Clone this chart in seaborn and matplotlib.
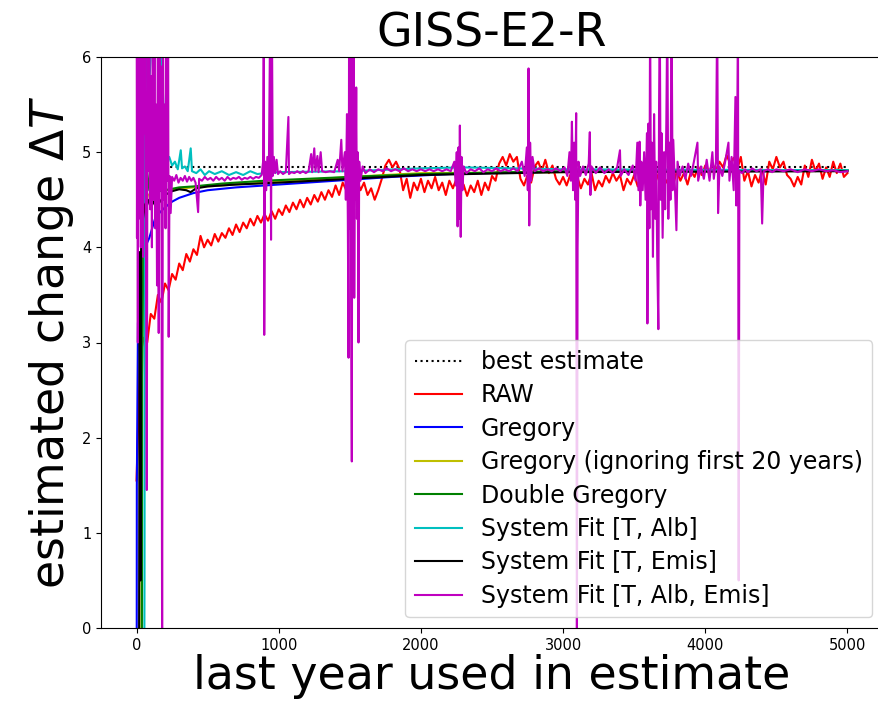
import numpy as np
import pandas as pd
import matplotlib
matplotlib.use("Agg")
import matplotlib.pyplot as plt
import seaborn as sns

# ---------------- data ----------------
title = "GISS-E2-R"
xlabel = "last year used in estimate"
ylabel = "estimated change $\\Delta T$"
x_ticks = [0, 1000, 2000, 3000, 4000, 5000]
y_ticks = [0, 1, 2, 3, 4, 5, 6]

labels = ["best estimate", "RAW", "Gregory", "Gregory (ignoring first 20 years)",
          "Double Gregory", "System Fit [T, Alb]", "System Fit [T, Emis]",
          "System Fit [T, Alb, Emis]"]

best_years = [0, 5000]
best_vals = [4.84, 4.84]

# RAW: one value every 25 years, 0 .. 5000
raw_step = 25
raw_vals = [
    1.55, 2.85, 3.05, 3.00, 3.30, 3.25, 3.50, 3.42, 3.62, 3.55,
    3.72, 3.66, 3.83, 3.76, 3.93, 3.85, 3.98, 3.92, 4.12, 4.00,
    4.08, 4.02, 4.14, 4.06, 4.15, 4.10, 4.20, 4.13, 4.24, 4.16,
    4.26, 4.20, 4.30, 4.23, 4.33, 4.26, 4.35, 4.28, 4.38, 4.30,
    4.40, 4.34, 4.44, 4.37, 4.47, 4.40, 4.50, 4.42, 4.52, 4.45,
    4.55, 4.48, 4.58, 4.50, 4.60, 4.53, 4.65, 4.55, 4.68, 4.60,
    4.70, 4.62, 4.72, 4.60, 4.68, 4.55, 4.62, 4.50, 4.60, 4.72,
    4.86, 4.92, 4.84, 4.90, 4.82, 4.60, 4.72, 4.52, 4.68, 4.60,
    4.72, 4.58, 4.70, 4.62, 4.74, 4.60, 4.68, 4.55, 4.70, 4.62,
    4.72, 4.60, 4.66, 4.54, 4.65, 4.58, 4.70, 4.55, 4.68, 4.60,
    4.75, 4.70, 4.88, 4.95, 4.86, 4.98, 4.90, 4.95, 4.72, 4.65,
    4.76, 4.68, 4.85, 4.90, 4.80, 4.92, 4.78, 4.86, 4.72, 4.66,
    4.74, 4.65, 4.76, 4.68, 4.74, 4.62, 4.72, 4.66, 4.78, 4.60,
    4.70, 4.64, 4.75, 4.68, 4.78, 4.70, 4.76, 4.60, 4.72, 4.66,
    4.76, 4.64, 4.78, 4.70, 4.82, 4.72, 4.80, 4.70, 4.78, 4.68,
    4.76, 4.66, 4.80, 4.70, 4.78, 4.66, 4.80, 4.74, 4.85, 4.76,
    4.86, 4.78, 4.88, 4.80, 4.90, 4.84, 4.97, 4.88, 4.94, 4.82,
    4.95, 4.70, 4.80, 4.64, 4.76, 4.68, 4.82, 4.66, 4.90, 4.82,
    4.95, 4.84, 4.90, 4.76, 4.72, 4.64, 4.74, 4.66, 4.86, 4.74,
    4.92, 4.80, 4.88, 4.72, 4.84, 4.74, 4.90, 4.78, 4.88, 4.74,
    4.78,
]

greg_years = [0, 2, 10, 30, 60, 90, 130, 160, 200, 250, 300, 400, 500, 700,
              900, 1200, 1500, 1800, 2200, 2700, 3500, 5000]
greg_vals = [-3.0, 1.5, 3.2, 3.8, 4.0, 4.1, 4.3, 4.36, 4.42, 4.48, 4.52, 4.57,
             4.60, 4.63, 4.65, 4.68, 4.71, 4.74, 4.77, 4.79, 4.80, 4.81]

greg20_years = [30, 38, 50, 80, 120, 200, 400, 800, 1500, 2000, 3000, 5000]
greg20_vals = [-3.0, 2.65, 4.30, 4.55, 4.58, 4.60, 4.63, 4.67, 4.74, 4.78, 4.79, 4.81]

dgreg_years = [35, 40, 50, 70, 90, 120, 200, 300, 400, 600, 900, 1200, 1500,
               2000, 3000, 5000]
dgreg_vals = [-3.0, 2.65, 4.40, 4.85, 4.60, 4.58, 4.60, 4.63, 4.64, 4.67, 4.70,
              4.72, 4.74, 4.77, 4.80, 4.81]

sf_alb_years = [50, 56, 60, 80, 120, 170, 200, 215, 230, 250, 270, 290, 311,
                320, 340, 360, 381, 390, 420, 450, 480, 510, 550, 600, 650,
                700, 750, 800, 850, 900, 1000, 1500, 2000, 2300, 3000, 5000]
sf_alb_vals = [-3.0, 0.5, 6.5, 5.5, 6.5, 6.3, 5.0, 4.90, 4.95, 4.86, 4.90,
               4.82, 5.02, 4.83, 4.85, 4.80, 5.04, 4.80, 4.78, 4.82, 4.76,
               4.80, 4.77, 4.80, 4.76, 4.79, 4.76, 4.80, 4.77, 4.78, 4.79,
               4.80, 4.83, 4.84, 4.82, 4.81]

sf_emis_years = [15, 22, 28, 35, 45, 60, 80, 100, 130, 160, 200, 250, 300,
                 350, 380, 420, 500, 700, 1000, 1500, 2000, 3000, 5000]
sf_emis_vals = [-3.0, 3.95, 0.5, 6.5, 4.30, 4.45, 4.50, 4.42, 4.50, 4.47,
                4.55, 4.59, 4.61, 4.60, 4.58, 4.62, 4.64, 4.66, 4.68, 4.72,
                4.76, 4.79, 4.80]

sf_all_points = [
    (1, 6.5), (3, 4.1), (6, 6.5), (9, 3.0), (12, 6.5), (15, 4.3), (18, 6.5),
    (22, 5.0), (26, 6.5), (30, 4.0), (34, 6.5), (38, 4.6), (42, 6.5), (46, 3.9),
    (50, 6.5), (55, 5.2), (60, 6.5), (66, 4.2), (72, 1.45), (78, 6.5), (84, 4.8),
    (90, 6.5), (96, 4.4), (102, 5.8), (108, 4.0), (114, 6.5), (120, 4.5),
    (126, 6.5), (132, 4.2), (138, 5.5), (144, 3.6), (150, 6.5), (156, 3.1),
    (162, 6.5), (168, 4.6), (174, 5.9), (180, -0.5), (186, 6.5), (192, 4.5),
    (198, 5.5), (204, 4.2), (210, 6.5), (216, 4.7), (222, 6.5), (226, 3.06),
    (232, 4.75),
    (240, 4.36), (250, 4.74), (265, 4.70), (280, 4.76), (295, 4.68), (310, 4.73),
    (325, 4.70), (340, 4.75), (355, 4.69), (370, 4.74), (385, 4.70), (400, 4.73),
    (415, 4.68), (433, 4.37), (440, 4.72), (460, 4.70), (480, 4.74), (500, 4.71),
    (520, 4.73), (540, 4.70), (560, 4.74), (580, 4.71), (600, 4.73), (620, 4.70),
    (640, 4.74), (660, 4.71), (680, 4.73), (700, 4.72), (720, 4.74), (740, 4.71),
    (760, 4.73), (780, 4.72), (800, 4.74), (820, 4.72), (840, 4.74), (860, 4.73),
    (880, 4.76),
    (890, 4.9), (895, 6.5), (898, 3.08), (904, 4.9), (912, 4.6), (920, 4.95),
    (930, 4.7), (940, 6.5), (946, 4.08), (952, 6.5), (958, 4.75), (966, 4.95),
    (975, 4.78), (985, 4.92), (995, 4.77), (1010, 4.80), (1030, 4.77),
    (1050, 4.79), (1068, 5.37), (1072, 4.77), (1090, 4.79), (1110, 4.78),
    (1130, 4.80), (1150, 4.78), (1170, 4.80), (1190, 4.78), (1210, 4.80),
    (1228, 4.98), (1235, 4.79), (1250, 5.04), (1258, 4.80), (1272, 4.96),
    (1280, 4.79), (1295, 5.0), (1305, 4.80), (1330, 4.79), (1360, 4.80),
    (1390, 4.79), (1415, 4.92), (1425, 4.80), (1440, 5.13), (1448, 4.80),
    (1465, 5.0), (1472, 4.5), (1480, 5.4), (1486, 4.3), (1491, 2.84),
    (1495, 6.5), (1500, 4.2), (1504, 6.5), (1509, 3.5), (1514, 1.75),
    (1518, 6.5), (1522, 4.0), (1527, 6.5), (1531, 3.47), (1536, 5.2),
    (1540, 4.5), (1545, 5.68), (1550, 4.3), (1555, 5.0), (1561, 3.0),
    (1566, 4.9), (1575, 4.7), (1590, 4.85), (1610, 4.78), (1640, 4.82),
    (1670, 4.79), (1700, 4.82), (1730, 4.80), (1760, 4.83), (1790, 4.80),
    (1820, 4.82), (1850, 4.80), (1880, 4.83), (1910, 4.80), (1940, 4.82),
    (1970, 4.80), (2000, 4.82), (2030, 4.80), (2060, 4.82), (2090, 4.80),
    (2120, 4.82), (2150, 4.80), (2180, 4.82), (2210, 4.80), (2235, 4.9),
    (2245, 4.65), (2252, 5.0), (2258, 4.22), (2264, 5.05), (2268, 4.3),
    (2274, 5.28), (2280, 4.11), (2286, 4.95), (2292, 4.6), (2300, 4.85),
    (2320, 4.78), (2350, 4.82), (2380, 4.80), (2410, 4.83), (2440, 4.79),
    (2470, 4.82), (2500, 4.80), (2530, 4.83), (2560, 4.80), (2590, 4.82),
    (2620, 4.80), (2650, 4.83), (2680, 4.80), (2710, 4.9), (2730, 4.75),
    (2745, 5.05), (2752, 4.6), (2757, 5.88), (2762, 4.23), (2768, 5.1),
    (2775, 4.7), (2785, 4.95), (2800, 4.80), (2830, 4.83), (2860, 4.80),
    (2890, 4.82), (2920, 4.80), (2950, 4.83), (2980, 4.80), (3010, 4.84),
    (3030, 4.75), (3045, 5.0), (3055, 4.7), (3062, 5.32), (3070, 4.6),
    (3078, 5.1), (3085, 4.5), (3092, 5.41), (3097, -0.5), (3102, 4.0),
    (3108, 4.9), (3120, 4.75), (3140, 4.85), (3160, 4.76), (3180, 4.88),
    (3188, 5.21), (3192, 4.55), (3200, 4.85), (3230, 4.78), (3260, 4.84),
    (3290, 4.78), (3320, 4.82), (3350, 4.78), (3380, 4.84), (3400, 5.02),
    (3405, 4.75), (3430, 4.82), (3460, 4.76), (3490, 4.86), (3510, 4.7),
    (3522, 5.1), (3530, 4.6), (3538, 5.11), (3543, 4.44), (3550, 4.9),
    (3560, 4.6), (3570, 5.0), (3580, 4.5), (3590, 5.2), (3593, 3.2),
    (3600, 5.3), (3607, 4.2), (3612, 6.5), (3618, 4.4), (3625, 5.1),
    (3632, 3.9), (3640, 5.4), (3648, 4.3), (3655, 4.9), (3662, 3.9),
    (3670, 3.14), (3675, 5.5), (3680, 6.5), (3686, 4.5), (3692, 5.2),
    (3700, 4.1), (3710, 5.0), (3718, 4.4), (3726, 5.3), (3733, 6.5),
    (3740, 4.3), (3748, 5.1), (3755, 4.5), (3763, 6.5), (3770, 4.6),
    (3775, 5.13), (3785, 4.7), (3797, 4.18), (3805, 4.9), (3820, 4.75),
    (3840, 4.85), (3860, 4.72), (3880, 4.88), (3900, 4.75), (3920, 4.9),
    (3945, 5.1), (3950, 4.7), (3970, 4.85), (3990, 4.72), (4010, 4.92),
    (4030, 4.7), (4050, 5.0), (4060, 4.72), (4075, 4.9), (4084, 6.5),
    (4090, 4.36), (4100, 4.85), (4120, 4.75), (4140, 4.9), (4163, 5.1),
    (4170, 4.7), (4185, 4.95), (4200, 4.6), (4212, 5.58), (4218, 4.44),
    (4225, 5.3), (4230, 6.5), (4235, 0.5), (4240, 4.8), (4260, 4.78),
    (4280, 4.82), (4300, 4.79), (4330, 4.83), (4360, 4.80), (4390, 4.82),
    (4400, 4.25), (4410, 4.80), (4440, 4.82), (4470, 4.79), (4500, 4.82),
    (4550, 4.80), (4600, 4.82), (4650, 4.79), (4700, 4.82), (4750, 4.80),
    (4800, 4.82), (4850, 4.80), (4900, 4.81), (4950, 4.79), (5000, 4.80),
]

colors = ["k", "r", "b", "y", "g", "c", "k", "m"]

# ---------------- figure ----------------
W, H = 879, 701
fig = plt.figure(figsize=(W / 100, H / 100), dpi=100)
ax = fig.add_axes([101 / W, (H - 628) / H, 782 / W, 571 / H])

raw_years = list(range(0, raw_step * len(raw_vals), raw_step))
sf_all_years = [p[0] for p in sf_all_points]
sf_all_vals = [p[1] for p in sf_all_points]

series = [
    (best_years, best_vals),
    (raw_years, raw_vals),
    (greg_years, greg_vals),
    (greg20_years, greg20_vals),
    (dgreg_years, dgreg_vals),
    (sf_alb_years, sf_alb_vals),
    (sf_emis_years, sf_emis_vals),
    (sf_all_years, sf_all_vals),
]

for i, ((xs, ys), lab, col) in enumerate(zip(series, labels, colors)):
    df = pd.DataFrame({"year": xs, "dT": ys})
    sns.lineplot(data=df, x="year", y="dT", ax=ax, color=col, label=lab,
                 linestyle=":" if i == 0 else "-", linewidth=1.5,
                 sort=False, estimator=None, errorbar=None)

ax.set_xlim(-250, 5250)
ax.set_ylim(0, 6)
ax.set_xticks(x_ticks)
ax.set_yticks(y_ticks)
ax.tick_params(labelsize=10.5)
ax.spines["right"].set_visible(False)
ax.set_title(title, fontsize=33, pad=2)
ax.set_xlabel(xlabel, fontsize=33, labelpad=1)
ax.set_ylabel(ylabel, fontsize=33, labelpad=4)
ax.legend(loc="lower right", fontsize=17, borderaxespad=0.45, labelspacing=0.4)

fig.savefig("out.png", dpi=100)
